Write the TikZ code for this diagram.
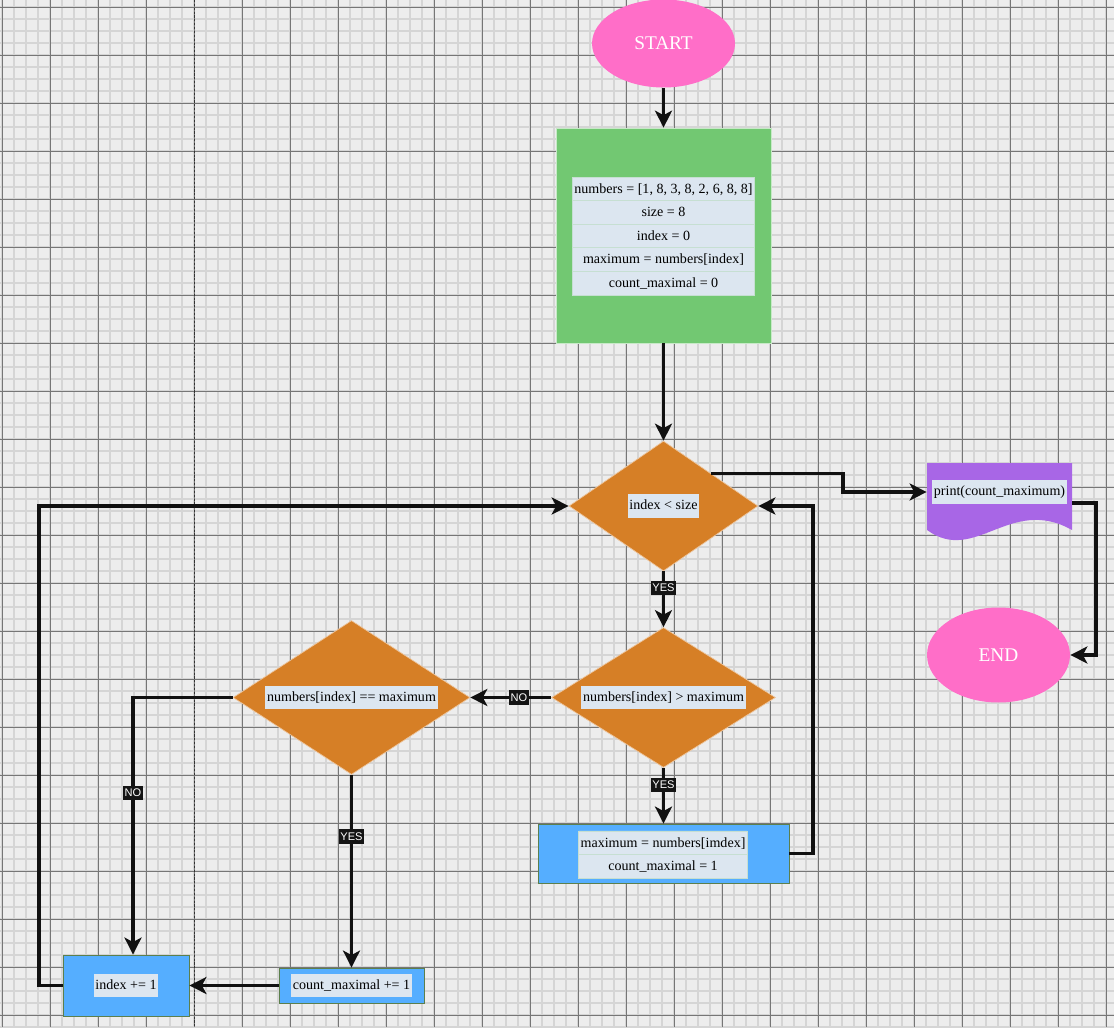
\documentclass[tikz,border=0pt]{standalone}
\usepackage{fontspec}
\setmainfont{Liberation Serif}
\setsansfont{Liberation Sans}
\usetikzlibrary{arrows.meta}
\usetikzlibrary{shapes.geometric}
\usetikzlibrary{shapes.multipart}
\definecolor{paper}{HTML}{EDEDED}
\definecolor{minorgrid}{HTML}{D5D5D5}
\definecolor{majorgrid}{HTML}{767676}
\definecolor{lineblk}{HTML}{111111}
\definecolor{termpink}{HTML}{FF6EC8}
\definecolor{initgreen}{HTML}{72C872}
\definecolor{condorange}{HTML}{D67F26}
\definecolor{procblue}{HTML}{55AEFF}
\definecolor{procedge}{HTML}{5C7F4C}
\definecolor{docpurple}{HTML}{A866E6}
\definecolor{lblbg}{HTML}{DCE6F0}
\definecolor{rowline}{HTML}{C6DFD2}
\setlength{\fboxsep}{1pt}
\newcommand{\rowstrut}{\rule[-4pt]{0pt}{13pt}}
\newcommand{\lbox}[1]{\colorbox{lblbg}{\rule[-3.5pt]{0pt}{11.5pt}#1}}
\tikzset {
  % connector with arrow at the end
  flow/.style = {
    draw = lineblk,
    line width = 2pt,
    -{Stealth[length = 0.34cm, width = 0.34cm, inset = 0.09cm]}
  },
  % YES / NO tags on connectors
  yesno/.style = {
    fill = black!92,
    text = white,
    font = \sffamily\fontsize{6.3}{7}\selectfont,
    inner xsep = 1pt,
    inner ysep = 1pt,
    text height = 5pt,
    text depth = 1pt
  }
}
\tikzset {
  % start and end symbol
  terminal/.style = {
    ellipse,
    fill = termpink,
    text = white,
    font = \fontsize{11}{13}\selectfont,
    minimum width = 2.86cm,
    minimum height = 1.76cm,
    inner sep = 0
  },
  initbox/.style = {
    rectangle,
    fill = initgreen,
    draw = initgreen!40!white,
    line width = 0.4pt,
    minimum width = 4.3cm,
    minimum height = 4.3cm
  },
  proc/.style = {
    rectangle,
    fill = procblue,
    draw = procedge,
    line width = 0.5pt,
    inner sep = 0,
    font = \fontsize{8}{9.6}\selectfont
  },
  cond/.style = {
    diamond,
    aspect = 1.6,
    fill = condorange,
    draw = condorange!45!white,
    line width = 0.4pt,
    inner sep = 0,
    font = \fontsize{8}{9.6}\selectfont
  },
  % stacked variable rows
  vars/.style = {
    rectangle split,
    draw = rowline,
    line width = 0.4pt,
    fill = lblbg,
    inner xsep = 0pt,
    inner ysep = 0pt,
    font = \fontsize{8}{9.6}\selectfont
  },
  doc/.style = {
    rectangle,
    minimum width = 2.9cm,
    inner sep = 0,
    font = \fontsize{8}{9.6}\selectfont
  }
}

\begin{document}
\begin{tikzpicture}[x = 0.02cm, y = -0.02cm]
  \useasboundingbox (0,0) rectangle (1114,1027);
  % background grid
  \fill[paper] (0,0) rectangle (1114,1027);
  \foreach \x in {2,14,...,1114}
    \draw[minorgrid, line width = 0.7pt] (\x,0) -- (\x,1027);
  \foreach \y in {7,19,...,1027}
    \draw[minorgrid, line width = 0.7pt] (0,\y) -- (1114,\y);
  \foreach \x in {2,50,...,1114}
    \draw[majorgrid, line width = 0.5pt] (\x,0) -- (\x,1027);
  \foreach \y in {7,55,...,1027}
    \draw[majorgrid, line width = 0.5pt] (0,\y) -- (1114,\y);
  \draw[black!80, line width = 0.5pt, dash pattern = on 1.2pt off 1pt] (194,0) -- (194,1027);

  \node[terminal] at (663.5, 43.5) (start) {START};
  \node[initbox] at (663.5, 235.5) (init) {};
  \node[vars, rectangle split parts = 5, minimum width = 3.64cm] at (663.5, 236) (init-vars) {%
    \rowstrut numbers = [1, 8, 3, 8, 2, 6, 8, 8]%
    \nodepart{two}\rowstrut size = 8%
    \nodepart{three}\rowstrut index = 0%
    \nodepart{four}\rowstrut maximum = numbers[index]%
    \nodepart{five}\rowstrut count\_maximal = 0};
  \node[cond, minimum width = 3.78cm, minimum height = 2.6cm] at (663.5, 506) (c1) {\lbox{index < size}};
  \node[cond, minimum width = 4.48cm, minimum height = 2.8cm] at (663.5, 697.5) (c2) {\lbox{numbers[index] > maximum}};
  \node[cond, minimum width = 4.74cm, minimum height = 3.08cm] at (351.5, 697.5) (c3) {\lbox{numbers[index] == maximum}};
  \node[proc, minimum width = 5.02cm, minimum height = 1.18cm] at (663.5, 853.5) (upd) {};
  \node[vars, rectangle split parts = 2, minimum width = 3.38cm] at (663, 854.5) (upd-vars) {%
    \rowstrut maximum = numbers[imdex]%
    \nodepart{two}\rowstrut count\_maximal = 1};
  \node[proc, minimum width = 2.9cm, minimum height = 0.7cm] at (351.5, 985.5) (cnt) {\lbox{count\_maximal += 1}};
  \node[proc, minimum width = 2.52cm, minimum height = 1.22cm] at (126, 985.5) (inc) {\lbox{index += 1}};

  % document shape for the output
  \fill[docpurple] (927,463) -- (1072,463) -- (1072,530)
    .. controls (1010,495) and (975,565) .. (927,530) -- cycle;
  \node[doc] at (999.5, 492) (print) {\lbox{print(count\_maximum)}};
  \node[terminal, minimum height = 1.9cm] at (998.5, 655) (end) {END};

  \coordinate (c1-out) at (843, 490);
  \coordinate (print-out) at (1096, 600);
  \coordinate (upd-out) at (813, 700);
  \coordinate (inc-out) at (39, 700);

  \draw[flow] (start) -- (init);
  \draw[flow] (init) -- (c1);
  \draw[flow] (c1.north east) -| (c1-out) |- (print.west);
  \draw[flow] ([yshift = -0.22cm]print.east) -| (print-out) |- (end);
  \draw[flow] (c1) -- node[yesno, pos = 0.3] {YES} (c2);
  \draw[flow] (c2) -- node[yesno, pos = 0.3] {YES} (upd);
  \draw[flow] (upd.east) -| (upd-out) |- (c1.east);
  \draw[flow] (c2) -- node[yesno, pos = 0.4] {NO} (c3);
  \draw[flow] (c3.west) -| node[yesno, pos = 0.686] {NO} ([xshift = 0.14cm]inc.north);
  \draw[flow] (c3) -- node[yesno, pos = 0.32] {YES} (cnt);
  \draw[flow] (cnt) -- (inc);
  \draw[flow] (inc.west) -| (inc-out) |- (c1.west);
\end{tikzpicture}
\end{document}
